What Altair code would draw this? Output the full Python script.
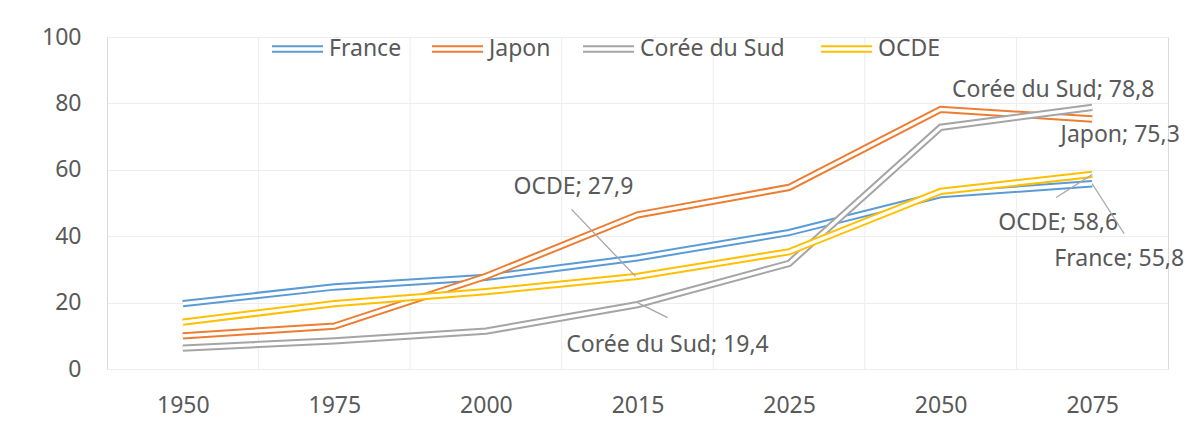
import altair as alt
import pandas as pd

# ---------------- data ----------------
years = ["1950", "1975", "2000", "2015", "2025", "2050", "2075"]
series = ["France", "Japon", "Corée du Sud", "OCDE"]
france = [19.7, 24.7, 27.6, 33.5, 41.1, 52.5, 55.8]
japon = [10.0, 12.9, 27.9, 46.4, 54.7, 78.2, 75.3]
coree = [6.3, 8.5, 11.4, 19.4, 31.8, 72.8, 78.8]
ocde = [14.1, 19.7, 23.3, 27.9, 35.3, 53.5, 58.6]
values = {"France": france, "Japon": japon, "Corée du Sud": coree, "OCDE": ocde}

# data labels: (series, year)
label_series = ["Corée du Sud", "Japon", "OCDE", "France", "OCDE", "Corée du Sud"]
label_years = ["2075", "2075", "2075", "2075", "2015", "2015"]

# ---------------- style ----------------
colors = {"France": "#5B9BD5", "Japon": "#ED7D31", "Corée du Sud": "#A5A5A5", "OCDE": "#FFC000"}
FONT = "Noto Sans"
FS = 23
TXT = "#595959"
W, H = 1061, 332
PX_X = W / 7.0      # pixels per category
PX_Y = H / 100.0    # pixels per unit
OUTER, INNER = 7.3, 3.3

# label offsets (px) relative to the data point, leader (start, end) offsets
label_style = [
    dict(dx=-39, dy=-17, leader=None),
    dict(dx=28, dy=16, leader=None),
    dict(dx=-34, dy=49, leader=((0, 0), (-36, 23))),
    dict(dx=27, dy=75, leader=((0, 0), (32, 50))),
    dict(dx=-64, dy=-89, leader=((-2, 0), (-66, -67))),
    dict(dx=30, dy=40, leader=((0, -2), (30, 13))),
]

xscale = alt.Scale(domain=[-0.5, 6.5], nice=False, zero=False)
yscale = alt.Scale(domain=[0, 100], nice=False)
label_expr = "[" + ",".join(f"'{y}'" for y in years) + "][datum.value]"
xaxis = alt.Axis(values=list(range(len(years))), labelExpr=label_expr, grid=False,
                 ticks=False, domain=False, title=None, labelFont=FONT,
                 labelFontSize=FS, labelColor=TXT, labelPadding=36,
                 labelBaseline="middle", labelFlush=False)
yaxis = alt.Axis(values=[0, 20, 40, 60, 80, 100], grid=True, gridColor="#EDEDED",
                 gridWidth=1, ticks=False, domain=False, title=None, labelFont=FONT,
                 labelFontSize=FS, labelColor=TXT, labelPadding=26,
                 labelBaseline="middle")

X = lambda f: alt.X(f, type="quantitative", scale=xscale, axis=xaxis)
Y = lambda f: alt.Y(f, type="quantitative", scale=yscale, axis=yaxis)

layers = []

# vertical gridlines at category boundaries
grid_df = pd.DataFrame({"idx": list(range(len(years) - 1))})
layers.append(
    alt.Chart(grid_df).transform_calculate(b="datum.idx + 0.5")
    .mark_rule(color="#EDEDED", strokeWidth=1)
    .encode(x=X("b"))
)

# double lines, one series after another
for s in series:
    df = pd.DataFrame({"idx": list(range(len(years))), "value": values[s]})
    base = alt.Chart(df).encode(x=X("idx"), y=Y("value"))
    layers.append(base.mark_line(color=colors[s], strokeWidth=OUTER))
    layers.append(base.mark_line(color="white", strokeWidth=INNER))

# data labels + leader lines
for s, yr, st in zip(label_series, label_years, label_style):
    i = years.index(yr)
    v = values[s][i]
    txt = f"{s}; {v}".replace(".", ",")
    if st["leader"] is not None:
        (sx, sy), (ex, ey) = st["leader"]
        ldf = pd.DataFrame({"x1": [i + sx / PX_X], "y1": [v - sy / PX_Y],
                            "x2": [i + ex / PX_X], "y2": [v - ey / PX_Y]})
        layers.append(
            alt.Chart(ldf).mark_rule(color="#A6A6A6", strokeWidth=1.3)
            .encode(x=X("x1"), y=Y("y1"), x2="x2", y2="y2")
        )
    tdf = pd.DataFrame({"idx": [i], "value": [v], "t": [txt]})
    layers.append(
        alt.Chart(tdf).mark_text(font=FONT, fontSize=FS, color=TXT, dx=st["dx"],
                                 dy=st["dy"], align="center", baseline="middle")
        .encode(x=X("idx"), y=Y("value"), text="t:N")
    )

# legend (double-line swatches)
leg_x = [165, 325, 476, 714]
leg_y = 12
one = pd.DataFrame({"a": [0]})
for s, lx in zip(series, leg_x):
    for col, wdt in ((colors[s], OUTER), ("white", INNER)):
        layers.append(
            alt.Chart(one).mark_rule(color=col, strokeWidth=wdt)
            .encode(x=alt.value(lx), x2=alt.value(lx + 51), y=alt.value(leg_y))
        )
    layers.append(
        alt.Chart(one).mark_text(font=FONT, fontSize=FS, color=TXT, align="left",
                                 baseline="middle", text=s)
        .encode(x=alt.value(lx + 57), y=alt.value(leg_y))
    )

chart = (
    alt.layer(*layers)
    .properties(width=W, height=H, autosize=alt.AutoSizeParams(type="none"),
                padding={"left": 99, "top": 29, "right": 19, "bottom": 50},
                background="white")
    .configure_view(stroke="#D9D9D9", strokeWidth=1)
)

chart.save("out.html", embed_options={"renderer": "svg", "actions": False})
